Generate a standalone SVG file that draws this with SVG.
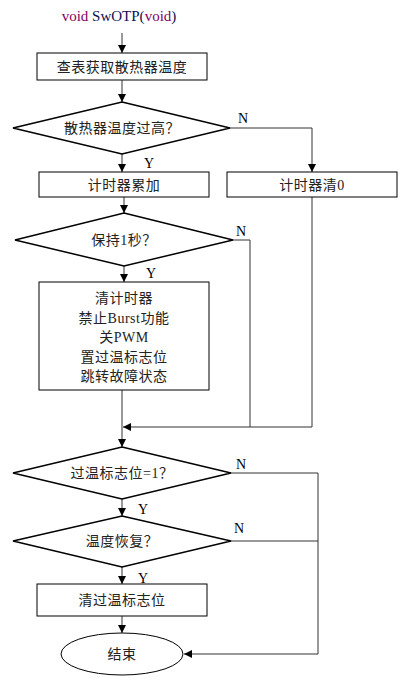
<svg xmlns="http://www.w3.org/2000/svg" width="403" height="691" viewBox="0 0 403 691">
<style>
.box{fill:#fff;stroke:#000;stroke-width:1}
.dia{fill:#fff;stroke:#000;stroke-width:1.5}
.t{font-family:"Liberation Serif","Noto Sans CJK SC",serif;font-size:14px;fill:#222;text-anchor:middle;dominant-baseline:central;letter-spacing:0.5px}
.yn{font-family:"Liberation Serif",serif;font-size:14px;fill:#000;text-anchor:middle}
.c{fill:none;stroke:#333;stroke-width:1}
</style>
<defs>
<marker id="ah" viewBox="0 0 10 10" refX="10" refY="5" markerWidth="8" markerHeight="8" markerUnits="userSpaceOnUse" orient="auto"><path d="M0,0 L10,5 L0,10 z" fill="#000"/></marker>
</defs>
<text x="119" y="21" font-family="Liberation Serif,serif" font-size="15" text-anchor="middle"><tspan fill="#800060">void</tspan><tspan fill="#101050"> SwOTP(</tspan><tspan fill="#800060">void</tspan><tspan fill="#101050">)</tspan></text>
<g id="connectors">
<path class="c" d="M122,33 V53" marker-end="url(#ah)"/>
<path class="c" d="M122,80 V102" marker-end="url(#ah)"/>
<path class="c" d="M122,154 V172" marker-end="url(#ah)"/>
<path class="c" d="M230,128 H312 V172" marker-end="url(#ah)"/>
<path class="c" d="M124,197 V213" marker-end="url(#ah)"/>
<path class="c" d="M124,266 V282" marker-end="url(#ah)"/>
<path class="c" d="M233,240 H250 V427"/>
<path class="c" d="M312,197 V427 H123" marker-end="url(#ah)"/>
<path class="c" d="M122,390 V447" marker-end="url(#ah)"/>
<path class="c" d="M122,499 V516" marker-end="url(#ah)"/>
<path class="c" d="M122,567 V584" marker-end="url(#ah)"/>
<path class="c" d="M122,616 V633" marker-end="url(#ah)"/>
<path class="c" d="M231,473 H318 V654 H184" marker-end="url(#ah)"/>
<path class="c" d="M231,541 H318"/>
<text class="yn" x="243" y="123">N</text>
<text class="yn" x="149" y="168">Y</text>
<text class="yn" x="241" y="236">N</text>
<text class="yn" x="151" y="278">Y</text>
<text class="yn" x="241" y="469">N</text>
<text class="yn" x="143" y="514">Y</text>
<text class="yn" x="239" y="533">N</text>
<text class="yn" x="143" y="583">Y</text>
</g>
<g id="n1"><rect class="box" x="37" y="53" width="170" height="27"/><text class="t" x="122" y="67">查表获取散热器温度</text></g>
<g id="n2"><polygon class="dia" points="122,102 230,128 122,154 13,128"/><text class="t" x="122" y="128">散热器温度过高？</text></g>
<g id="n3"><rect class="box" x="39" y="172" width="170" height="25"/><text class="t" x="124" y="185">计时器累加</text></g>
<g id="n4"><rect class="box" x="227" y="172" width="170" height="25"/><text class="t" x="312" y="185">计时器清0</text></g>
<g id="n5"><polygon class="dia" points="124,213 233,240 124,266 15,240"/><text class="t" x="124" y="240">保持1秒？</text></g>
<g id="n6"><rect class="box" x="39" y="282" width="170" height="108"/>
<text class="t" x="124" y="298">清计时器</text>
<text class="t" x="124" y="318">禁止Burst功能</text>
<text class="t" x="124" y="337">关PWM</text>
<text class="t" x="124" y="357">置过温标志位</text>
<text class="t" x="124" y="376">跳转故障状态</text></g>
<g id="n7"><polygon class="dia" points="122,447 231,473 122,499 13,473"/><text class="t" x="122" y="473">过温标志位=1？</text></g>
<g id="n8"><polygon class="dia" points="122,516 231,541 122,567 13,541"/><text class="t" x="122" y="541">温度恢复？</text></g>
<g id="n9"><rect class="box" x="37" y="584" width="170" height="32"/><text class="t" x="122" y="600">清过温标志位</text></g>
<g id="n10"><ellipse class="box" cx="122" cy="654" rx="61" ry="21"/><text class="t" x="122" y="654">结束</text></g>
</svg>
